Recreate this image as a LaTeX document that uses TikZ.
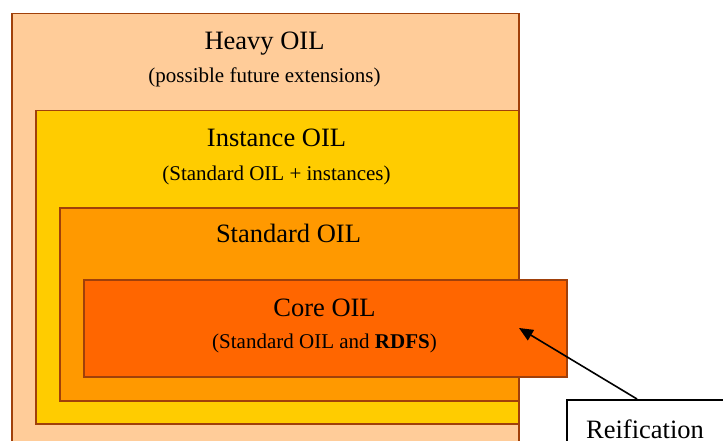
\documentclass[tikz,border=0pt]{standalone}
\usepackage{fontspec}
\setmainfont{Liberation Serif}
\usepackage{tikz}
\usetikzlibrary{arrows.meta}

\definecolor{heavyfill}{RGB}{255,204,153}
\definecolor{instfill}{RGB}{255,204,0}
\definecolor{stdfill}{RGB}{255,153,0}
\definecolor{corefill}{RGB}{255,102,0}
\definecolor{boxline}{RGB}{160,64,10}

\begin{document}
\begin{tikzpicture}[x=1pt, y=-1pt,
        layer/.style={draw=boxline, line width=1.5pt, rectangle, inner sep=0pt, anchor=north west},
        title/.style={anchor=base, inner sep=0pt, font=\fontsize{26.5}{30}\selectfont},
        subtitle/.style={anchor=base, inner sep=0pt, font=\fontsize{21}{25}\selectfont}]
        \useasboundingbox (0,0) rectangle (723,441);
        \clip (0,0) rectangle (723,441);

        % nested layers
        \node[layer, fill=heavyfill, minimum width=507, minimum height=460] (heavy) at (11,13) {};
        \node[layer, fill=instfill, minimum width=483, minimum height=313] (instance) at (35,110) {};
        \node[layer, fill=stdfill, minimum width=459, minimum height=193] (standard) at (59,207) {};
        \node[layer, fill=corefill, minimum width=483, minimum height=97] (core) at (83,279) {};

        % labels
        \node[title] (heavyname) at (264.5,50) {Heavy OIL};
        \node[subtitle] (heavynote) at (264.5,83) {(possible future extensions)};
        \node[title] (instname) at (276.5,147) {Instance OIL};
        \node[subtitle] (instnote) at (276.5,180) {(Standard OIL + instances)};
        \node[title] (stdname) at (288.5,242) {Standard OIL};
        \node[title] (corename) at (324.5,316) {Core OIL};
        \node[subtitle] (corenote) at (324.5,348) {(Standard OIL and \textbf{RDFS})};

        % reification
        \node[draw, line width=1.6pt, rectangle, inner sep=0pt, anchor=north west,
              minimum width=170, minimum height=70, fill=white] (reif) at (566,399) {};
        \node[title] (reifname) at (645,438) {Reification};
        \coordinate (reiftip) at (519,328);
        \draw[line width=1.6pt, -{Triangle[length=14pt, width=12pt]}]
            ([xshift=71pt]reif.north west) -- (reiftip);
\end{tikzpicture}
\end{document}
